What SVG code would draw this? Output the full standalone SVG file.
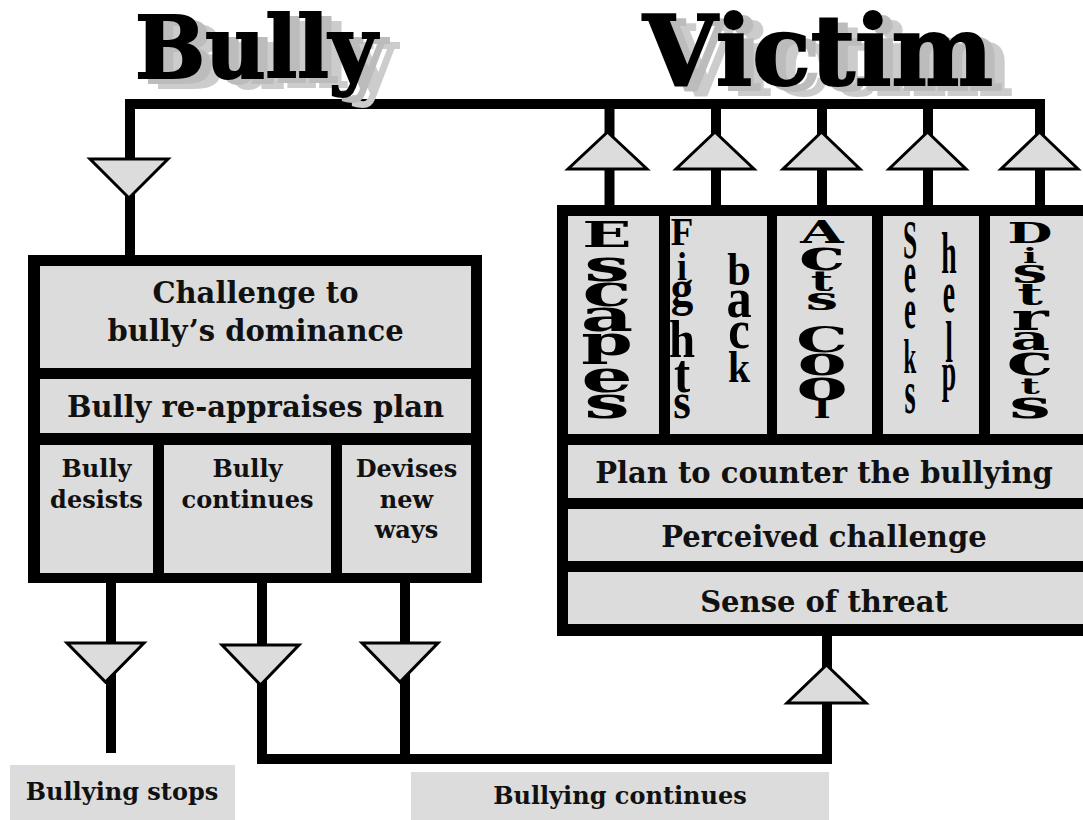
<svg xmlns="http://www.w3.org/2000/svg" width="1083" height="820" viewBox="0 0 1083 820">
<style>
  .frame { fill: #000; }
  .cell { fill: #dcdcdc; }
  .wire { fill: none; stroke: #000; stroke-width: 10; stroke-linejoin: miter; stroke-linecap: butt; }
  .tri { fill: #dcdcdc; stroke: #000; stroke-width: 3; stroke-linejoin: miter; }
  .lbl { font-family: "DejaVu Serif", "Liberation Serif", serif; font-weight: bold; font-size: 29px; text-anchor: middle; fill: #111; }
  .sm { font-size: 24px; }
  .heavy { font-family: "DejaVu Serif", serif; font-weight: bold; text-anchor: middle; fill: #000; }
  .narrow { font-family: "Liberation Serif", "Times New Roman", serif; font-weight: bold; text-anchor: middle; fill: #000; }
  .title { font-family: "DejaVu Serif", serif; font-weight: bold; fill: #000; stroke: #000; stroke-width: 2; filter: url(#wordart); }
</style>
<defs>
  <filter id="wordart" x="-5%" y="-10%" width="120%" height="140%" color-interpolation-filters="sRGB">
    <feOffset in="SourceAlpha" dx="20" dy="10" result="o2"/>
    <feFlood flood-color="#cccccc"/>
    <feComposite in2="o2" operator="in" result="s2"/>
    <feOffset in="SourceAlpha" dx="10" dy="5" result="o1"/>
    <feFlood flood-color="#bcbcbc"/>
    <feComposite in2="o1" operator="in" result="s1"/>
    <feMerge>
      <feMergeNode in="s2"/>
      <feMergeNode in="s1"/>
      <feMergeNode in="SourceGraphic"/>
    </feMerge>
  </filter>
</defs>

<!-- connectors -->
<g id="connectors">
  <polyline class="wire" points="130,255 130,104 1040,104 1040,205"/>
  <line class="wire" x1="609.5" y1="104" x2="609.5" y2="205"/>
  <line class="wire" x1="716" y1="104" x2="716" y2="205"/>
  <line class="wire" x1="822" y1="104" x2="822" y2="205"/>
  <line class="wire" x1="928" y1="104" x2="928" y2="205"/>
  <line class="wire" x1="111" y1="583" x2="111" y2="753"/>
  <polyline class="wire" points="262,583 262,759 827,759 827,636"/>
  <line class="wire" x1="405" y1="583" x2="405" y2="759"/>
  <!-- arrowheads -->
  <polygon class="tri" points="90,159 168,159 129,198"/>
  <polygon class="tri" points="568,169 647,169 607.5,132"/>
  <polygon class="tri" points="676,169 754,169 715,132"/>
  <polygon class="tri" points="783,169 860,169 821.5,132"/>
  <polygon class="tri" points="889,169 966,169 927.5,132"/>
  <polygon class="tri" points="1001,169 1078,169 1039.5,132"/>
  <polygon class="tri" points="67,643 144,643 105.5,682"/>
  <polygon class="tri" points="222,645 299,645 260.5,685"/>
  <polygon class="tri" points="362,643 438,643 400,682"/>
  <polygon class="tri" points="787,703 866,703 826.5,665"/>
</g>

<!-- Bully side box -->
<g id="bully-box">
  <rect class="frame" x="28" y="255" width="454" height="328"/>
  <g id="challenge">
    <rect class="cell" x="40" y="266" width="431" height="102"/>
    <text class="lbl" x="255.5" y="303">Challenge to</text>
    <text class="lbl" x="255.5" y="341">bully’s dominance</text>
  </g>
  <g id="reappraise">
    <rect class="cell" x="40" y="379" width="431" height="54"/>
    <text class="lbl" x="255.5" y="417">Bully re-appraises plan</text>
  </g>
  <g id="desists">
    <rect class="cell" x="40" y="445" width="113" height="128"/>
    <text class="lbl sm" x="96.5" y="477">Bully</text>
    <text class="lbl sm" x="96.5" y="508">desists</text>
  </g>
  <g id="continues">
    <rect class="cell" x="164" y="445" width="167" height="128"/>
    <text class="lbl sm" x="247.5" y="477">Bully</text>
    <text class="lbl sm" x="247.5" y="508">continues</text>
  </g>
  <g id="devises">
    <rect class="cell" x="342" y="445" width="129" height="128"/>
    <text class="lbl sm" x="406.5" y="477">Devises</text>
    <text class="lbl sm" x="406.5" y="508">new</text>
    <text class="lbl sm" x="406.5" y="538">ways</text>
  </g>
</g>

<!-- Victim side box -->
<g id="victim-box">
  <rect class="frame" x="557" y="205" width="530" height="431"/>
  <g id="escapes">
    <rect class="cell" x="568" y="216" width="91" height="218"/>
    <g transform="translate(607,0) scale(1.8,1)">
      <text class="heavy" font-size="45"><tspan x="0" y="247" font-size="36">E</tspan><tspan x="0" y="281">s</tspan><tspan x="0" y="306">c</tspan><tspan x="0" y="331">a</tspan><tspan x="0" y="355" font-size="41">p</tspan><tspan x="0" y="392">e</tspan><tspan x="0" y="418">s</tspan></text>
    </g>
  </g>
  <g id="fights-back">
    <rect class="cell" x="670" y="216" width="97" height="218"/>
    <g transform="translate(682,0) scale(0.9,1)">
      <text class="narrow" font-size="50"><tspan x="0" y="245" font-size="41">F</tspan><tspan x="0" y="280" font-size="40">i</tspan><tspan x="0" y="305">g</tspan><tspan x="0" y="357" font-size="52">h</tspan><tspan x="0" y="392" font-size="54">t</tspan><tspan x="0" y="418">s</tspan></text>
    </g>
    <g transform="translate(739,0) scale(0.9,1)">
      <text class="narrow" font-size="56"><tspan x="0" y="285" font-size="47">b</tspan><tspan x="0" y="317">a</tspan><tspan x="0" y="348" font-size="54">c</tspan><tspan x="0" y="382" font-size="44">k</tspan></text>
    </g>
  </g>
  <g id="acts-cool">
    <rect class="cell" x="777" y="216" width="95" height="218"/>
    <g transform="translate(822,0) scale(1.8,1)">
      <text class="heavy" font-size="43"><tspan x="0" y="243" font-size="31">A</tspan><tspan x="0" y="270">c</tspan><tspan x="0" y="291" font-size="27">t</tspan><tspan x="0" y="310" font-size="32">s</tspan><tspan x="0" y="330"> </tspan><tspan x="0" y="352" font-size="36">C</tspan><tspan x="0" y="375" font-size="41">o</tspan><tspan x="0" y="400">o</tspan><tspan x="0" y="418" font-size="24">l</tspan></text>
    </g>
  </g>
  <g id="seeks-help">
    <rect class="cell" x="883" y="216" width="96" height="218"/>
    <g transform="translate(910,0) scale(0.47,1)">
      <text class="narrow" font-size="58"><tspan x="0" y="258" font-size="54">S</tspan><tspan x="0" y="292" font-size="59">e</tspan><tspan x="0" y="328" font-size="57">e</tspan><tspan x="0" y="373" font-size="49">k</tspan><tspan x="0" y="413" font-size="61">s</tspan></text>
    </g>
    <g transform="translate(949,0) scale(0.47,1)">
      <text class="narrow" font-size="59"><tspan x="0" y="273">h</tspan><tspan x="0" y="312">e</tspan><tspan x="0" y="362">l</tspan><tspan x="0" y="390" font-size="55">p</tspan></text>
    </g>
  </g>
  <g id="distracts">
    <rect class="cell" x="990" y="216" width="93" height="218"/>
    <g transform="translate(1030,0) scale(1.85,1)">
      <text class="heavy" font-size="36"><tspan x="0" y="243" font-size="28">D</tspan><tspan x="0" y="263" font-size="20">i</tspan><tspan x="0" y="283" font-size="34">s</tspan><tspan x="0" y="305" font-size="30">t</tspan><tspan x="0" y="330" font-size="38">r</tspan><tspan x="0" y="350" font-size="33">a</tspan><tspan x="0" y="375" font-size="42">c</tspan><tspan x="0" y="394" font-size="23">t</tspan><tspan x="0" y="418" font-size="40">s</tspan></text>
    </g>
  </g>
  <g id="plan">
    <rect class="cell" x="568" y="445" width="515" height="53"/>
    <text class="lbl" x="824" y="483">Plan to counter the bullying</text>
  </g>
  <g id="perceived">
    <rect class="cell" x="568" y="509" width="515" height="52"/>
    <text class="lbl" x="824" y="547">Perceived challenge</text>
  </g>
  <g id="threat">
    <rect class="cell" x="568" y="572" width="515" height="52"/>
    <text class="lbl" x="824" y="612">Sense of threat</text>
  </g>
</g>

<!-- outcomes -->
<g id="bullying-stops">
  <rect class="cell" x="10" y="765" width="225" height="55"/>
  <text class="lbl sm" x="122" y="800">Bullying stops</text>
</g>
<g id="bullying-continues">
  <rect class="cell" x="411" y="772" width="418" height="48"/>
  <text class="lbl sm" x="620" y="804">Bullying continues</text>
</g>

<!-- titles -->
<g id="title-bully">
  <text class="title" x="135" y="78" font-size="86" textLength="242" lengthAdjust="spacingAndGlyphs">Bully</text>
</g>
<g id="title-victim">
  <text class="title" x="643" y="85" font-size="97" textLength="350" lengthAdjust="spacingAndGlyphs">Victim</text>
</g>
</svg>
